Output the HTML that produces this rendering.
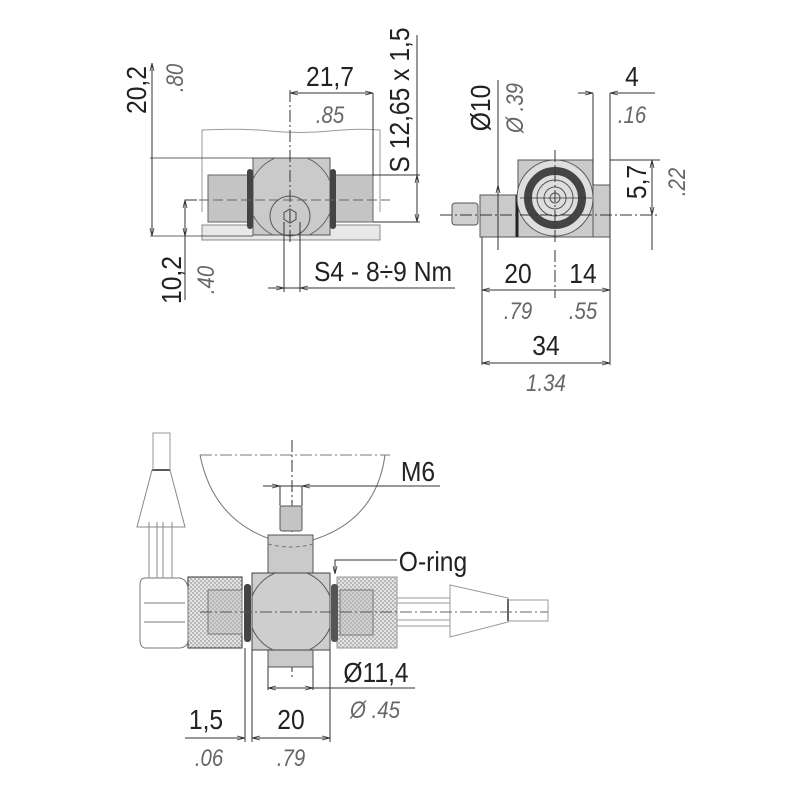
<!DOCTYPE html>
<html><head><meta charset="utf-8"><style>
html,body{margin:0;padding:0;background:#fff}
svg{display:block}
.t{font-family:"Liberation Sans",sans-serif;font-size:28px;fill:#222}
.i{font-family:"Liberation Sans",sans-serif;font-size:24px;font-style:italic;fill:#666}
</style></head><body>
<svg width="800" height="800" viewBox="0 0 800 800" xmlns="http://www.w3.org/2000/svg">
<defs>
<pattern id="h" width="4" height="4" patternUnits="userSpaceOnUse">
<rect width="4" height="4" fill="#e4e4e4"/><rect width="2" height="2" fill="#b8b8b8"/><rect x="2" y="2" width="2" height="2" fill="#b8b8b8"/>
</pattern>
<clipPath id="bc"><rect x="252" y="573" width="78" height="77"/></clipPath>
<clipPath id="tc"><rect x="253" y="158" width="77" height="77"/></clipPath>
<marker id="a" markerWidth="8" markerHeight="6" refX="8" refY="3" orient="auto-start-reverse"><path d="M0,1 L8,3 L0,5" fill="none" stroke="#333" stroke-width="0.8"/></marker>
</defs>
<g stroke="#333" stroke-width="1" fill="none">
<path d="M202,212 V130 Q240,128 270,131 T330,131 T380,130 V212" stroke="#999"/>
<rect x="202" y="225" width="178" height="15" fill="#e8e8e8" stroke="#888"/>
<rect x="208" y="175" width="40" height="47" fill="#c4c4c4" stroke="#666"/>
<rect x="335" y="175" width="38" height="47" fill="#c4c4c4" stroke="#666"/>
<rect x="253" y="158" width="77" height="77" fill="#cacaca" stroke="#555"/>
<circle cx="291" cy="197" r="42" clip-path="url(#tc)" stroke="#666"/>
<rect x="247" y="169" width="6" height="60" rx="3" fill="#444" stroke="none"/>
<rect x="330" y="169" width="6" height="60" rx="3" fill="#444" stroke="none"/>
<circle cx="290" cy="216" r="20" stroke="#555"/>
<polygon points="290,209 296,212.5 296,219.5 290,223 284,219.5 284,212.5" stroke="#444"/>
<path d="M290,90 V245" stroke-dasharray="12,3,2,3"/>
<path d="M185,200 H390" stroke-dasharray="10,4" stroke="#666"/>
<path d="M150,158 H253 M150,236 H253" stroke-width="0.8"/>
<path d="M152,63 V236" marker-start="url(#a)" marker-end="url(#a)"/>
<path d="M290,93 H373" marker-start="url(#a)" marker-end="url(#a)"/>
<path d="M373,93 V176"/>
<path d="M417,35 V222" />
<path d="M417,175 V222" marker-start="url(#a)" marker-end="url(#a)"/>
<path d="M373,175 H420 M373,222 H420"/>
<path d="M197,200 H185 V300"/>
<path d="M185,200 V236" marker-start="url(#a)" marker-end="url(#a)"/>
<path d="M284,222 V292 M300,222 V292"/>
<path d="M268,288 H455"/>
<path d="M268,288 H284" marker-end="url(#a)"/><path d="M316,288 H300" marker-end="url(#a)"/>

<rect x="518" y="160" width="75" height="77" fill="#cacaca" stroke="#555"/>
<rect x="593" y="185" width="17" height="52" fill="#cacaca" stroke="#555"/>
<rect x="480" y="195" width="37" height="42" fill="#cacaca" stroke="#555"/>
<path d="M517,195 V237" stroke-width="3" stroke="#222"/>
<rect x="452" y="203" width="26" height="22" rx="3" fill="#d0d0d0" stroke="#555"/>
<circle cx="555" cy="198" r="38" fill="#dedede" stroke="#555"/>
<circle cx="555" cy="198" r="27" stroke="#444" stroke-width="8"/>
<circle cx="555" cy="198" r="18" stroke="#555"/>
<circle cx="555" cy="198" r="11" stroke="#555"/>
<circle cx="555" cy="198" r="5" stroke="#555"/>
<path d="M440,215 H660" stroke-dasharray="12,3,2,3"/>
<path d="M520,198 H592" stroke-width="0.8"/>
<path d="M555,150 V245 M555,250 V298" stroke-dasharray="12,3,2,3"/>
<path d="M498,80 V250"/>
<path d="M498,195 L498,185" marker-end="url(#a)"/>
<path d="M593,93 V185 M610,93 V237"/>
<path d="M578,93 H593" marker-end="url(#a)"/><path d="M655,93 H610" marker-end="url(#a)"/>
<path d="M610,160 H660"/>
<path d="M652,160 V250"/>
<path d="M652,160 V215" marker-start="url(#a)" marker-end="url(#a)"/>
<path d="M482,237 V365 M610,237 V365"/>
<path d="M482,290 H610" marker-start="url(#a)" marker-end="url(#a)"/>
<path d="M482,363 H610" marker-start="url(#a)" marker-end="url(#a)"/>

<path d="M200,455 H390" stroke-dasharray="12,3,2,3" stroke="#777"/>
<path d="M200,455 Q215,530 292,545 Q375,530 385,455" stroke="#777"/>
<path d="M292,440 V680" stroke-dasharray="12,3,2,3"/>
<path d="M263,486 H440"/>
<path d="M263,486 H280" marker-end="url(#a)"/><path d="M318,486 H302" marker-end="url(#a)"/>
<path d="M280,486 V506 M302,486 V506"/>
<rect x="280" y="506" width="22" height="25" rx="2" fill="#c4c4c4" stroke="#555"/>
<rect x="268" y="535" width="45" height="38" fill="#cacaca" stroke="#555"/>
<path d="M268,544 Q292,550 313,544" stroke-dasharray="4,3" stroke="#777"/>
<rect x="268" y="650" width="45" height="17" fill="#cacaca" stroke="#555"/>
<rect x="188" y="577" width="54" height="71" fill="url(#h)" stroke="#333"/>
<rect x="208" y="590" width="34" height="44" fill="#bbb" fill-opacity="0.5" stroke="#777"/>
<rect x="337" y="577" width="60" height="71" fill="url(#h)" stroke="#999"/>
<rect x="340" y="590" width="33" height="45" fill="#bbb" fill-opacity="0.5" stroke="#777"/>
<rect x="252" y="573" width="78" height="77" fill="#cecece" stroke="#444"/>
<circle cx="291" cy="612" r="42" clip-path="url(#bc)" stroke="#555"/>
<rect x="244" y="584" width="7" height="58" rx="3" fill="#444" stroke="none"/>
<rect x="331" y="584" width="7" height="58" rx="3" fill="#555" stroke="none"/>
<path d="M200,612 H400" stroke-dasharray="12,3,2,3" stroke="#555"/>
<path d="M145,578 H180 Q188,580 188,590 V640 Q188,647 180,648 H145 Q140,647 140,640 V585 Q140,578 145,578 Z" stroke="#777"/>
<path d="M144,603 H185 M144,622 H185" stroke="#777"/>
<path d="M149,578 V522 M172,578 V522 M157,578 V522 M163,578 V522" stroke="#888"/>
<path d="M152,470 L137,527 H185 L170,470 Z" stroke="#888"/>
<path d="M152,470 H170" stroke="#222" stroke-width="1.5"/>
<path d="M153,470 V433 H170 V470" stroke="#999"/>
<path d="M397,598 H450 M397,603 H450 M397,620 H450 M397,626 H450" stroke="#999"/>
<path d="M450,585 L508,598 V622 L450,637 Z" stroke="#999"/>
<path d="M508,599 V621" stroke="#333" stroke-width="1.5"/>
<path d="M508,600 H548 V621 H508" stroke="#999"/>
<path d="M400,612 H548" stroke-dasharray="12,3,2,3" stroke="#666"/>
<path d="M335,572 V560 H397"/>
<path d="M335,566 V574" marker-end="url(#a)"/>
<path d="M268,667 V690 M313,667 V690"/>
<path d="M268,688 H415"/>
<path d="M268,688 H290" marker-start="url(#a)"/><path d="M313,688 H290" marker-start="url(#a)"/>
<path d="M245,648 V742 M252,650 V742 M330,650 V742"/>
<path d="M185,738 H245" marker-end="url(#a)"/>
<path d="M252,738 H330" marker-start="url(#a)" marker-end="url(#a)"/>
</g>

<text class="t" transform="translate(146,90) rotate(-90) scale(0.88,1)" text-anchor="middle">20,2</text>
<text class="i" transform="translate(183,78) rotate(-90) scale(0.85,1)" text-anchor="middle">.80</text>
<text class="t" transform="translate(330,86) scale(0.88,1)" text-anchor="middle">21,7</text>
<text class="i" transform="translate(330,123) scale(0.85,1)" text-anchor="middle">.85</text>
<text class="t" transform="translate(409,100) rotate(-90) scale(0.88,1)" text-anchor="middle">S 12,65 x 1,5</text>
<text class="t" transform="translate(181,280) rotate(-90) scale(0.88,1)" text-anchor="middle">10,2</text>
<text class="i" transform="translate(214,280) rotate(-90) scale(0.85,1)" text-anchor="middle">.40</text>
<text class="t" transform="translate(383,281) scale(0.88,1)" text-anchor="middle">S4 - 8÷9 Nm</text>

<text class="t" transform="translate(490,108) rotate(-90) scale(0.88,1)" text-anchor="middle">Ø10</text>
<text class="i" transform="translate(523,108) rotate(-90) scale(0.85,1)" text-anchor="middle">Ø .39</text>
<text class="t" transform="translate(632,86) scale(0.88,1)" text-anchor="middle">4</text>
<text class="i" transform="translate(632,123) scale(0.85,1)" text-anchor="middle">.16</text>
<text class="t" transform="translate(646,182) rotate(-90) scale(0.88,1)" text-anchor="middle">5,7</text>
<text class="i" transform="translate(685,182) rotate(-90) scale(0.85,1)" text-anchor="middle">.22</text>
<text class="t" transform="translate(518,283) scale(0.88,1)" text-anchor="middle">20</text>
<text class="t" transform="translate(583,283) scale(0.88,1)" text-anchor="middle">14</text>
<text class="i" transform="translate(518,319) scale(0.85,1)" text-anchor="middle">.79</text>
<text class="i" transform="translate(583,319) scale(0.85,1)" text-anchor="middle">.55</text>
<text class="t" transform="translate(546,355) scale(0.88,1)" text-anchor="middle">34</text>
<text class="i" transform="translate(546,391) scale(0.85,1)" text-anchor="middle">1.34</text>

<text class="t" transform="translate(418,481) scale(0.88,1)" text-anchor="middle">M6</text>
<text class="t" transform="translate(433,571) scale(0.88,1)" text-anchor="middle">O-ring</text>
<text class="t" transform="translate(376,682) scale(0.88,1)" text-anchor="middle">Ø11,4</text>
<text class="i" transform="translate(375,718) scale(0.85,1)" text-anchor="middle">Ø .45</text>
<text class="t" transform="translate(206,729) scale(0.88,1)" text-anchor="middle">1,5</text>
<text class="t" transform="translate(291,729) scale(0.88,1)" text-anchor="middle">20</text>
<text class="i" transform="translate(209,766) scale(0.85,1)" text-anchor="middle">.06</text>
<text class="i" transform="translate(291,766) scale(0.85,1)" text-anchor="middle">.79</text>
</svg>
</body></html>
